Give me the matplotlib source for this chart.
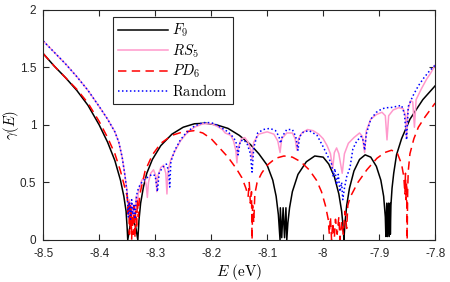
import matplotlib
import matplotlib.pyplot as plt

matplotlib.use('Agg')

plt.rcParams['font.family'] = ['Liberation Sans', 'DejaVu Sans']
plt.rcParams['mathtext.fontset'] = 'cm'

# Lyapunov exponent curves, as (E, gamma) pairs.
f9_points = [
    (-8.500, 1.62), (-8.480, 1.51), (-8.460, 1.41), (-8.440, 1.30), (-8.420, 1.17),
    (-8.400, 1.00), (-8.385, 0.85), (-8.372, 0.69), (-8.362, 0.52), (-8.356, 0.38),
    (-8.352, 0.25), (-8.350, 0.10), (-8.349, 0.00),
    (-8.345, 0.12), (-8.340, 0.17), (-8.335, 0.12), (-8.331, 0.00),
    (-8.329, 0.17), (-8.326, 0.32), (-8.321, 0.46), (-8.315, 0.58), (-8.305, 0.70),
    (-8.290, 0.82), (-8.270, 0.92), (-8.250, 0.98), (-8.230, 1.01), (-8.210, 1.015),
    (-8.190, 1.00), (-8.170, 0.97), (-8.150, 0.91), (-8.130, 0.83), (-8.115, 0.75),
    (-8.100, 0.65), (-8.090, 0.52), (-8.084, 0.38), (-8.080, 0.22), (-8.077, 0.00),
    (-8.0765, 0.28), (-8.074, 0.02), (-8.0715, 0.28), (-8.069, 0.02), (-8.0665, 0.28),
    (-8.065, 0.00),
    (-8.063, 0.15), (-8.060, 0.28), (-8.055, 0.42), (-8.045, 0.57), (-8.030, 0.68),
    (-8.015, 0.73), (-8.000, 0.72), (-7.990, 0.66), (-7.980, 0.55), (-7.972, 0.40),
    (-7.967, 0.25), (-7.964, 0.10), (-7.963, 0.00),
    (-7.961, 0.15), (-7.958, 0.30), (-7.953, 0.45), (-7.945, 0.60), (-7.935, 0.70),
    (-7.925, 0.74), (-7.915, 0.72), (-7.905, 0.64), (-7.897, 0.52), (-7.892, 0.38),
    (-7.889, 0.20), (-7.888, 0.03),
    (-7.8865, 0.32), (-7.885, 0.03), (-7.8835, 0.32), (-7.882, 0.03), (-7.8805, 0.32),
    (-7.880, 0.05),
    (-7.879, 0.30), (-7.877, 0.45), (-7.874, 0.58), (-7.869, 0.74), (-7.860, 0.88),
    (-7.845, 1.05), (-7.822, 1.22), (-7.800, 1.34),
]

rs5_points = [
    (-8.500, 1.73), (-8.480, 1.63), (-8.460, 1.53), (-8.440, 1.42), (-8.420, 1.30),
    (-8.400, 1.16), (-8.385, 1.05), (-8.372, 0.94), (-8.365, 0.85), (-8.359, 0.72),
    (-8.354, 0.56), (-8.350, 0.42),
    (-8.348, 0.25), (-8.346, 0.35), (-8.344, 0.22), (-8.342, 0.32), (-8.340, 0.20),
    (-8.338, 0.30), (-8.336, 0.25), (-8.334, 0.38), (-8.332, 0.30), (-8.330, 0.42),
    (-8.328, 0.45), (-8.324, 0.52), (-8.319, 0.54), (-8.316, 0.48), (-8.314, 0.37),
    (-8.312, 0.50), (-8.308, 0.58), (-8.303, 0.61), (-8.299, 0.56), (-8.297, 0.42),
    (-8.295, 0.56), (-8.290, 0.63), (-8.285, 0.65), (-8.281, 0.58), (-8.279, 0.40),
    (-8.277, 0.60), (-8.272, 0.70), (-8.265, 0.77), (-8.255, 0.86), (-8.245, 0.92),
    (-8.230, 0.98), (-8.215, 1.01), (-8.200, 1.01), (-8.190, 0.99), (-8.180, 0.96),
    (-8.175, 0.93), (-8.165, 0.91), (-8.160, 0.86), (-8.156, 0.78), (-8.154, 0.67),
    (-8.152, 0.80), (-8.146, 0.88), (-8.140, 0.89), (-8.134, 0.85), (-8.129, 0.78),
    (-8.127, 0.70), (-8.124, 0.85), (-8.115, 0.92), (-8.100, 0.94), (-8.088, 0.92),
    (-8.081, 0.86), (-8.077, 0.76), (-8.074, 0.88), (-8.065, 0.93), (-8.055, 0.93),
    (-8.050, 0.88), (-8.047, 0.78), (-8.044, 0.88), (-8.038, 0.93), (-8.028, 0.96),
    (-8.018, 0.95), (-8.008, 0.92), (-8.000, 0.88), (-7.993, 0.82), (-7.987, 0.75),
    (-7.983, 0.62), (-7.980, 0.76), (-7.976, 0.80), (-7.972, 0.75), (-7.966, 0.58),
    (-7.962, 0.75), (-7.955, 0.84), (-7.945, 0.89), (-7.935, 0.93), (-7.930, 0.90),
    (-7.926, 0.76), (-7.923, 0.95), (-7.915, 1.05), (-7.905, 1.09), (-7.895, 1.11),
    (-7.889, 1.08), (-7.886, 0.87), (-7.883, 1.08), (-7.875, 1.13), (-7.865, 1.15),
    (-7.857, 1.14), (-7.853, 1.08), (-7.851, 0.89), (-7.849, 1.12), (-7.844, 1.21),
    (-7.840, 1.20), (-7.837, 0.98), (-7.834, 1.22), (-7.825, 1.31), (-7.815, 1.40),
    (-7.808, 1.45), (-7.800, 1.52),
]

pd6_points = [
    (-8.500, 1.62), (-8.480, 1.51), (-8.460, 1.41), (-8.440, 1.31), (-8.420, 1.19),
    (-8.400, 1.03), (-8.385, 0.89), (-8.372, 0.75), (-8.362, 0.60), (-8.355, 0.47),
    (-8.350, 0.38),
    (-8.348, 0.20), (-8.347, 0.34), (-8.346, 0.05), (-8.345, 0.30), (-8.344, 0.10),
    (-8.343, 0.28), (-8.342, 0.00), (-8.341, 0.22), (-8.339, 0.05), (-8.338, 0.30),
    (-8.336, 0.02), (-8.335, 0.25), (-8.333, 0.10), (-8.332, 0.35), (-8.330, 0.20),
    (-8.328, 0.38),
    (-8.325, 0.45), (-8.318, 0.60), (-8.305, 0.74), (-8.290, 0.84), (-8.270, 0.91),
    (-8.250, 0.94), (-8.230, 0.95), (-8.215, 0.93), (-8.200, 0.88), (-8.185, 0.80),
    (-8.170, 0.72), (-8.155, 0.62), (-8.145, 0.54), (-8.138, 0.45), (-8.134, 0.38),
    (-8.132, 0.50), (-8.130, 0.32), (-8.128, 0.42), (-8.127, 0.00),
    (-8.126, 0.30), (-8.124, 0.15), (-8.122, 0.40), (-8.118, 0.50), (-8.110, 0.58),
    (-8.100, 0.65), (-8.085, 0.71), (-8.070, 0.73), (-8.055, 0.72), (-8.040, 0.68),
    (-8.025, 0.61), (-8.012, 0.52), (-8.003, 0.42), (-7.996, 0.30), (-7.991, 0.18),
    (-7.989, 0.05), (-7.987, 0.20), (-7.985, 0.00), (-7.983, 0.15), (-7.980, 0.02),
    (-7.978, 0.18), (-7.975, 0.05), (-7.972, 0.20), (-7.970, 0.00), (-7.967, 0.16),
    (-7.964, 0.05), (-7.961, 0.25), (-7.958, 0.10), (-7.956, 0.30),
    (-7.952, 0.37), (-7.938, 0.50), (-7.922, 0.61), (-7.904, 0.71), (-7.890, 0.76),
    (-7.878, 0.78), (-7.868, 0.76), (-7.860, 0.66), (-7.856, 0.55),
    (-7.854, 0.40), (-7.853, 0.58), (-7.852, 0.35), (-7.851, 0.50), (-7.850, 0.00),
    (-7.849, 0.45), (-7.848, 0.60),
    (-7.845, 0.75), (-7.838, 0.88), (-7.830, 0.98), (-7.818, 1.07), (-7.800, 1.19),
]

random_points = [
    (-8.500, 1.73), (-8.480, 1.63), (-8.460, 1.53), (-8.440, 1.42), (-8.420, 1.30),
    (-8.400, 1.16), (-8.385, 1.05), (-8.372, 0.94), (-8.365, 0.85), (-8.359, 0.72),
    (-8.354, 0.56), (-8.350, 0.40),
    (-8.348, 0.20), (-8.346, 0.33), (-8.344, 0.18), (-8.342, 0.35), (-8.340, 0.22),
    (-8.338, 0.30), (-8.336, 0.18), (-8.334, 0.35), (-8.332, 0.42), (-8.328, 0.47),
    (-8.324, 0.50), (-8.318, 0.53), (-8.312, 0.55), (-8.306, 0.57), (-8.300, 0.56),
    (-8.296, 0.42), (-8.293, 0.58), (-8.287, 0.63), (-8.280, 0.66), (-8.276, 0.60),
    (-8.274, 0.46), (-8.272, 0.68), (-8.265, 0.78), (-8.255, 0.87), (-8.245, 0.93),
    (-8.230, 0.99), (-8.215, 1.02), (-8.200, 1.02), (-8.190, 1.00), (-8.180, 0.97),
    (-8.170, 0.94), (-8.162, 0.90), (-8.156, 0.86), (-8.152, 0.74), (-8.148, 0.86),
    (-8.142, 0.87), (-8.136, 0.84), (-8.130, 0.75), (-8.127, 0.59), (-8.124, 0.80),
    (-8.117, 0.93), (-8.107, 0.96), (-8.095, 0.97), (-8.085, 0.95), (-8.079, 0.90),
    (-8.076, 0.84), (-8.073, 0.90), (-8.065, 0.96), (-8.055, 0.96), (-8.049, 0.90),
    (-8.045, 0.78), (-8.042, 0.90), (-8.035, 0.94), (-8.025, 0.95), (-8.011, 0.91),
    (-8.000, 0.81), (-7.992, 0.73), (-7.985, 0.66), (-7.982, 0.55), (-7.979, 0.62),
    (-7.976, 0.48), (-7.973, 0.57), (-7.970, 0.42), (-7.967, 0.50), (-7.965, 0.35),
    (-7.962, 0.45), (-7.958, 0.55), (-7.952, 0.63), (-7.947, 0.79), (-7.940, 0.86),
    (-7.932, 0.90), (-7.928, 0.86), (-7.926, 0.78), (-7.923, 0.92), (-7.915, 1.05),
    (-7.905, 1.11), (-7.895, 1.14), (-7.887, 1.15), (-7.880, 1.15), (-7.870, 1.16),
    (-7.860, 1.17), (-7.855, 1.10), (-7.851, 0.87), (-7.848, 1.16), (-7.840, 1.25),
    (-7.830, 1.34), (-7.820, 1.41), (-7.810, 1.47), (-7.800, 1.52),
]

x_ticks = [-8.5, -8.4, -8.3, -8.2, -8.1, -8.0, -7.9, -7.8]
x_tick_labels = ['-8.5', '-8.4', '-8.3', '-8.2', '-8.1', '-8', '-7.9', '-7.8']
y_ticks = [0, 0.5, 1, 1.5, 2]
y_tick_labels = ['0', '0.5', '1', '1.5', '2']


def unzip(points):
    return [p[0] for p in points], [p[1] for p in points]


fig = plt.figure(figsize=(4.5, 2.82), dpi=100)
ax = fig.add_axes([0.096, 0.149, 0.871, 0.816])

e, g = unzip(f9_points)
ax.plot(e, g, color='k', lw=1.1, label='$F_9$')
e, g = unzip(rs5_points)
ax.plot(e, g, color='#ff99cc', lw=1.1, label='$RS_5$')
e, g = unzip(pd6_points)
ax.plot(e, g, color='#ff0000', lw=1.1, dashes=(5.5, 3.5), label='$PD_6$')
e, g = unzip(random_points)
ax.plot(e, g, color='#0000ff', lw=1.1, linestyle=(0, (1, 1.6)), label=r'$\mathrm{Random}$')

ax.set_xlim(-8.5, -7.8)
ax.set_ylim(0, 2)
ax.set_xticks(x_ticks)
ax.set_xticklabels(x_tick_labels)
ax.set_yticks(y_ticks)
ax.set_yticklabels(y_tick_labels)
ax.tick_params(direction='in', top=True, right=True, length=4, width=0.8,
               labelsize=8.5, colors='#262626')
ax.tick_params(axis='x', pad=6)
ax.tick_params(axis='y', pad=5)
for spine in ax.spines.values():
    spine.set_color('#262626')
    spine.set_linewidth(0.8)

ax.set_xlabel(r'$E\ \mathrm{(eV)}$', fontsize=11)
ax.xaxis.set_label_coords(0.5, -0.095)
ax.set_ylabel(r'$\gamma(E)$', fontsize=10.5)
ax.yaxis.set_label_coords(-0.056, 0.5)

leg = ax.legend(loc='upper left', bbox_to_anchor=(0.178, 0.97), borderaxespad=0,
                fontsize=10.5, fancybox=False, framealpha=1, edgecolor='#262626',
                handlelength=3.4, handletextpad=0.3, labelspacing=0.2,
                borderpad=0.35)
leg.get_frame().set_linewidth(0.8)

fig.savefig('out.png', dpi=100)
